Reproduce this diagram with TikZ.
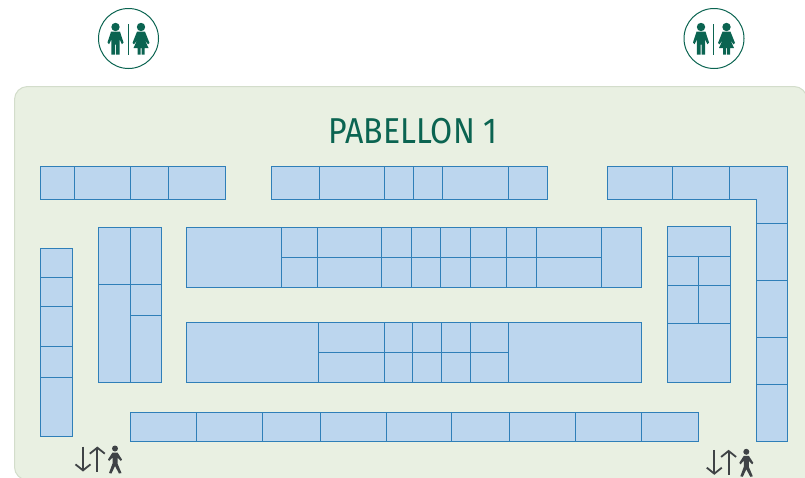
\documentclass[tikz,border=0pt]{standalone}
\usepackage{fontspec}
\setmainfont{Fira Sans}
\usetikzlibrary{arrows.meta}

\definecolor{hallgreen}{HTML}{E9F0E2}
\definecolor{hallline}{HTML}{D3DDCB}
\definecolor{stallblue}{HTML}{BCD6EE}
\definecolor{stallline}{HTML}{2F7FB8}
\definecolor{signgreen}{HTML}{0B6451}
\definecolor{liftgrey}{HTML}{3F4346}

\tikzset{
	stall/.style = {fill = stallblue, draw = stallline, line width = 1pt},
	signfill/.style = {fill = signgreen, draw = none},
	liftarrow/.style = {draw = liftgrey, line width = 1.8pt, -{Straight Barb[length = 6pt, width = 15pt]}},
	pics/wcsign/.style = {code = {
		\draw [signgreen, line width = 1pt] (0,0) circle [radius = 30];
		\draw [signgreen, line width = 1.3pt] (-0.3,-14.5) -- (-0.3,16);
		% man
		\fill [signfill] (-13,-11.5) circle [radius = 4.2];
		\fill [signfill] (-17.5,-6.8) -- (-8.5,-6.8) -- (-5,4) -- (-6.6,5.8) -- (-8.8,1) -- (-8.8,16)
			-- (-12.5,16) -- (-12.5,6) -- (-13.5,6) -- (-13.5,16) -- (-17.2,16) -- (-17.2,1)
			-- (-19.4,5.8) -- (-21,4) -- cycle;
		% woman
		\fill [signfill] (12.5,-11.5) circle [radius = 4.2];
		\fill [signfill] (8.5,-6.8) -- (16.5,-6.8) -- (21,4.5) -- (19.5,5.8) -- (16.3,1.5) -- (20,9.5) -- (16,9.5) -- (16,16)
			-- (13,16) -- (13,9.5) -- (12,9.5) -- (12,16) -- (9,16) -- (9,9.5) -- (5,9.5) -- (8.7,1.5)
			-- (5.5,5.8) -- (4,4.5) -- cycle;
	}},
	pics/liftsign/.style = {code = {
		\draw [liftarrow] (0,0) -- (0,25);
		\draw [liftarrow] (14.3,25) -- (14.3,0);
		% walker
		\fill [liftgrey] (32,2) circle [radius = 3];
		\fill [liftgrey] (29.5,6) -- (34.5,6) -- (39,13) -- (37.8,14.5) -- (34.5,11) -- (34.5,17) -- (38.5,26.5) -- (36,27)
			-- (32,19.5) -- (28.5,27) -- (26,26.5) -- (29.5,17) -- (29.5,11) -- (26.2,14.5) -- (25,13) -- cycle;
	}}
}

\begin{document}
\begin{tikzpicture}[x = 1pt, y = -1pt]
\useasboundingbox (0,0) rectangle (805,477);

\draw [fill = hallgreen, draw = hallline, line width = 1pt, rounded corners = 13pt] (810,480) [sharp corners] -- (30,480) [rounded corners = 13pt] -- (14.5,480) -- (14.5,86.5) -- (807,86.5) [sharp corners] -- (807,480) -- cycle;

\node (title) [text = signgreen, font = \fontsize{36}{36}\selectfont, xscale = 0.89, anchor = center] at (413,131) {PABELLON 1};

\pic (wcleft) at (128.5,38.5) {wcsign};
\pic (wcright) at (714,38.5) {wcsign};
\pic (liftleft) at (83,446.5) {liftsign};
\pic (liftright) at (714.3,449.8) {liftsign};

% top rows
\foreach \xa/\xb in {40.5/74.5, 74.5/130.5, 130.5/168, 168/225, 271.5/319, 319/384.5, 384.5/413.7, 413.7/442.7, 442.7/508.7, 508.7/547, 607.3/672.3, 672.3/729.7}
	\draw [stall] (\xa,166.5) rectangle (\xb,199.5);
\draw [stall] (729.7,166.5) -- (787.7,166.5) -- (787.7,223.3) -- (756,223.3) -- (756,199.5) -- (729.7,199.5) -- cycle;

% right column
\foreach \ya/\yb in {223.3/280.3, 280.3/337, 337/384.3, 384.3/441.3}
	\draw [stall] (756,\ya) rectangle (787.7,\yb);

% left column
\foreach \ya/\yb in {248.3/277.3, 277.3/306, 306/346.3, 346.3/377.7, 377.7/436.7}
	\draw [stall] (40.5,\ya) rectangle (72,\yb);

% second block
\draw [stall] (98.7,227.5) rectangle (130.3,284.7);
\draw [stall] (98.7,284.7) rectangle (130.3,382.3);
\draw [stall] (130.3,227.5) rectangle (161.5,284.7);
\draw [stall] (130.3,284.7) rectangle (161.5,315.3);
\draw [stall] (130.3,315.3) rectangle (161.5,382.3);

% upper central block
\draw [stall] (186,227.5) rectangle (281,287);
\draw [stall] (601.7,227.5) rectangle (641.3,287);
\foreach \xa/\xb in {281/317.7, 317.7/381, 381/411.3, 411.3/440.7, 440.7/470, 470/506.7, 506.7/536.7, 536.7/601.7}
{
	\draw [stall] (\xa,227.5) rectangle (\xb,257.3);
	\draw [stall] (\xa,257.3) rectangle (\xb,287);
}

% lower central block
\draw [stall] (186.3,322.7) rectangle (318.7,382.3);
\draw [stall] (508.7,322.7) rectangle (641.3,382.3);
\foreach \xa/\xb in {318.7/384, 384/412.7, 412.7/441.7, 441.7/470.7, 470.7/508.7}
{
	\draw [stall] (\xa,322.7) rectangle (\xb,352.3);
	\draw [stall] (\xa,352.3) rectangle (\xb,382.3);
}

% right block
\draw [stall] (667,226.5) rectangle (730,256.7);
\foreach \ya/\yb in {256.7/285.7, 285.7/323}
{
	\draw [stall] (667,\ya) rectangle (698.7,\yb);
	\draw [stall] (698.7,\ya) rectangle (730,\yb);
}
\draw [stall] (667,323) rectangle (730,382.3);

% bottom row
\foreach \xa/\xb in {130.3/196.7, 196.7/262.7, 262.7/320, 320/386, 386/451, 451/509, 509/575.3, 575.3/641.7, 641.7/698.3}
	\draw [stall] (\xa,412) rectangle (\xb,441.3);

\end{tikzpicture}
\end{document}
